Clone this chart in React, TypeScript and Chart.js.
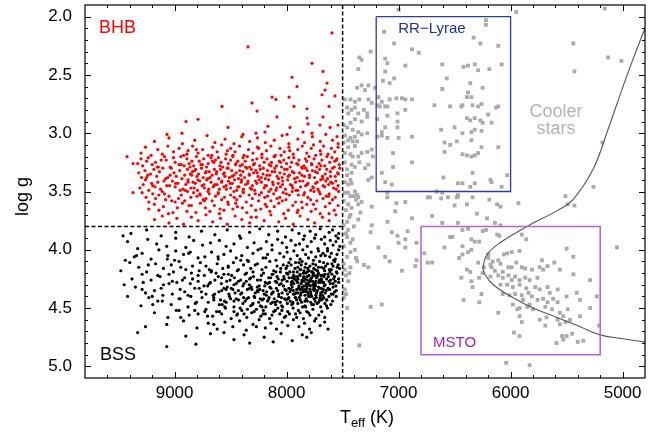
import React, { useEffect, useRef } from 'react';
import { Chart, registerables } from 'chart.js';

Chart.register(...registerables);

const FONT = '"Liberation Sans", Arial, Helvetica, sans-serif';

// Axes
const teffMin = 4800;
const teffMax = 9800;
const loggMin = 1.9;
const loggMax = 5.1;
const xMajorTicks = [9000, 8000, 7000, 6000, 5000];
const yMajorTicks = [2.0, 2.5, 3.0, 3.5, 4.0, 4.5, 5.0];

// Selection cuts and boxes (Teff hot, Teff cool, logg top, logg bottom)
const teffCut = 7500;
const loggCut = 3.8;
const rrLyraeBox = [7200, 6000, 2.0, 3.5];
const mstoBox = [6800, 5200, 3.8, 4.9];

// Isochrone
const isochroneTeff = [4760, 4800, 4963, 5142, 5264, 5443, 5577, 5853, 6095, 6210, 6245, 6230, 6155, 5980, 5800, 5585, 5380, 5200, 5020, 4800, 4760];
const isochroneLogg = [2.02, 2.10, 2.51, 3.00, 3.31, 3.57, 3.66, 3.80, 3.94, 4.04, 4.15, 4.21, 4.30, 4.41, 4.50, 4.58, 4.66, 4.73, 4.76, 4.79, 4.79];

// BHB candidates: Teff, log g pairs
const bhbStars = [
  7595,2.14, 8345,2.26, 7773,2.40, 7675,2.47, 7952,2.52, 7639,2.57, 7907,2.60, 7657,2.63, 7684,2.67, 8130,2.69,
  8095,2.71, 7978,2.69, 7568,2.68, 8309,2.74, 8577,2.77, 7934,2.77, 7818,2.79, 7621,2.77, 8264,2.81, 8086,2.86,
  7675,2.86, 7818,2.87, 8791,2.88, 8898,2.90, 8166,2.94, 8523,2.95, 7970,2.95, 7809,2.92, 7702,2.93, 7612,2.95,
  7541,2.93, 8934,3.00, 9068,3.01, 8389,3.01, 8273,3.00, 8193,2.99, 7854,2.99, 7773,3.00, 7550,3.03, 7996,3.01,
  9425,3.20, 9371,3.26, 9371,3.51,
  9180,3.07, 9050,3.04, 8930,3.09, 8820,3.06, 8710,3.02, 8640,3.08, 8550,3.05, 8470,3.09, 8400,3.03, 8330,3.07,
  8260,3.04, 8190,3.08, 8110,3.06, 8040,3.02, 7980,3.09, 7900,3.05, 7840,3.08, 7770,3.03, 7700,3.07, 7650,3.01,
  7590,3.06, 7540,3.09,
  9300,3.17, 9260,3.12, 9210,3.19, 9150,3.14, 9110,3.18, 9060,3.11, 9010,3.16, 8960,3.13, 8920,3.19, 8880,3.15,
  8840,3.11, 8790,3.17, 8750,3.14, 8700,3.19, 8660,3.12, 8620,3.16, 8580,3.10, 8540,3.18, 8500,3.13, 8460,3.16,
  8420,3.11, 8380,3.19, 8340,3.14, 8300,3.17, 8260,3.12, 8220,3.18, 8180,3.15, 8140,3.11, 8100,3.19, 8060,3.13,
  8020,3.16, 7980,3.12, 7940,3.18, 7900,3.14, 7860,3.11, 7820,3.17, 7780,3.13, 7740,3.19, 7700,3.15, 7670,3.11,
  7630,3.18, 7600,3.13, 7570,3.16, 7540,3.12, 8890,3.18, 8480,3.19, 8050,3.19, 7760,3.10,
  9330,3.26, 9300,3.22, 9285,3.28, 9250,3.24, 9235,3.21, 9200,3.27, 9170,3.25, 9155,3.29, 9120,3.23, 9090,3.20,
  9075,3.23, 9040,3.29, 9010,3.21, 8995,3.25, 8960,3.27, 8945,3.20, 8915,3.28, 8890,3.22, 8870,3.26, 8845,3.24,
  8830,3.28, 8805,3.20, 8780,3.24, 8765,3.27, 8740,3.22, 8715,3.29, 8700,3.26, 8675,3.21, 8650,3.25, 8635,3.23,
  8610,3.21, 8585,3.25, 8570,3.29, 8545,3.22, 8520,3.26, 8500,3.23, 8480,3.20, 8455,3.27, 8435,3.24, 8415,3.28,
  8395,3.27, 8370,3.24, 8350,3.20, 8330,3.29, 8305,3.23, 8285,3.26, 8265,3.22, 8240,3.28, 8220,3.21, 8200,3.25,
  8175,3.22, 8155,3.27, 8135,3.25, 8110,3.20, 8090,3.28, 8065,3.24, 8045,3.29, 8025,3.23, 8000,3.26, 7980,3.21,
  7955,3.25, 7935,3.21, 7910,3.26, 7890,3.23, 7865,3.29, 7845,3.28, 7820,3.24, 7800,3.20, 7775,3.27, 7755,3.22,
  7730,3.29, 7710,3.26, 7685,3.23, 7660,3.28, 7640,3.20, 7615,3.25, 7595,3.21, 7570,3.24, 7550,3.22, 7530,3.27,
  9320,3.34, 9295,3.38, 9265,3.32, 9240,3.36, 9215,3.35, 9185,3.31, 9160,3.37, 9135,3.33, 9105,3.30, 9080,3.39,
  9060,3.38, 9030,3.30, 9005,3.34, 8985,3.37, 8955,3.32, 8935,3.39, 8910,3.36, 8885,3.31, 8860,3.35, 8840,3.33,
  8820,3.32, 8800,3.37, 8785,3.35, 8760,3.30, 8745,3.38, 8725,3.34, 8705,3.39, 8690,3.33, 8665,3.36, 8645,3.31,
  8625,3.33, 8605,3.39, 8590,3.31, 8565,3.35, 8550,3.37, 8530,3.30, 8510,3.38, 8490,3.32, 8470,3.36, 8450,3.34,
  8430,3.39, 8410,3.36, 8390,3.33, 8375,3.38, 8355,3.30, 8335,3.35, 8315,3.31, 8295,3.34, 8275,3.32, 8255,3.37,
  8235,3.31, 8210,3.35, 8190,3.39, 8170,3.32, 8150,3.36, 8130,3.33, 8105,3.30, 8085,3.37, 8060,3.34, 8040,3.38,
  8020,3.35, 7995,3.31, 7975,3.36, 7950,3.33, 7930,3.39, 7905,3.38, 7885,3.34, 7860,3.30, 7840,3.37, 7815,3.32,
  7795,3.36, 7770,3.32, 7750,3.38, 7725,3.34, 7705,3.31, 7680,3.37, 7655,3.35, 7635,3.39, 7610,3.33, 7590,3.30,
  7565,3.37, 7545,3.34, 7525,3.30,
  9310,3.47, 9280,3.44, 9260,3.40, 9230,3.49, 9205,3.43, 9175,3.46, 9150,3.42, 9125,3.48, 9095,3.41, 9070,3.45,
  9045,3.45, 9020,3.41, 8995,3.46, 8970,3.43, 8950,3.49, 8925,3.48, 8900,3.44, 8880,3.40, 8855,3.47, 8835,3.42,
  8815,3.43, 8795,3.49, 8775,3.41, 8755,3.45, 8735,3.47, 8715,3.40, 8695,3.48, 8675,3.42, 8655,3.46, 8640,3.44,
  8620,3.44, 8600,3.48, 8580,3.42, 8560,3.46, 8540,3.45, 8520,3.41, 8500,3.47, 8485,3.43, 8465,3.40, 8445,3.49,
  8425,3.46, 8405,3.42, 8385,3.48, 8365,3.44, 8345,3.41, 8325,3.47, 8305,3.45, 8285,3.49, 8265,3.43, 8245,3.40,
  8225,3.42, 8200,3.47, 8180,3.45, 8160,3.40, 8140,3.48, 8120,3.44, 8095,3.49, 8075,3.43, 8055,3.46, 8035,3.41,
  8010,3.48, 7990,3.40, 7965,3.44, 7945,3.47, 7920,3.42, 7900,3.49, 7875,3.46, 7855,3.41, 7830,3.45, 7810,3.43,
  7785,3.49, 7765,3.46, 7740,3.43, 7720,3.48, 7695,3.40, 7675,3.45, 7650,3.41, 7625,3.44, 7605,3.42, 7580,3.47,
  7560,3.41, 7540,3.45,
  9290,3.51, 9255,3.55, 9230,3.59, 9195,3.52, 9170,3.56, 9140,3.53, 9110,3.50, 9080,3.57, 9050,3.54, 9025,3.58,
  8995,3.59, 8965,3.56, 8940,3.53, 8910,3.58, 8885,3.50, 8855,3.55, 8830,3.51, 8800,3.54, 8775,3.52, 8745,3.57,
  8720,3.56, 8690,3.52, 8665,3.58, 8635,3.54, 8610,3.51, 8580,3.57, 8555,3.55, 8525,3.59, 8500,3.53, 8470,3.50,
  8445,3.57, 8415,3.54, 8390,3.50, 8360,3.59, 8335,3.53, 8305,3.56, 8280,3.52, 8250,3.58, 8225,3.51, 8195,3.55,
  8170,3.54, 8140,3.58, 8115,3.52, 8085,3.56, 8060,3.55, 8030,3.51, 8005,3.57, 7975,3.53, 7950,3.50, 7920,3.59,
  7895,3.53, 7865,3.59, 7840,3.51, 7810,3.55, 7785,3.57, 7755,3.50, 7730,3.58, 7700,3.52, 7675,3.56, 7645,3.54,
  7620,3.52, 7590,3.57, 7565,3.55, 7535,3.50,
  9230,3.65, 9180,3.61, 9140,3.66, 9100,3.63, 9055,3.69, 9015,3.68, 8975,3.64, 8930,3.60, 8890,3.67, 8850,3.62,
  8810,3.68, 8770,3.60, 8725,3.64, 8685,3.67, 8645,3.62, 8600,3.69, 8560,3.66, 8520,3.61, 8480,3.65, 8440,3.63,
  8395,3.64, 8355,3.68, 8315,3.62, 8275,3.66, 8230,3.65, 8190,3.61, 8150,3.67, 8110,3.63, 8070,3.60, 8025,3.69,
  7985,3.66, 7945,3.62, 7905,3.68, 7860,3.64, 7820,3.61, 7780,3.67, 7740,3.65, 7700,3.69, 7655,3.63, 7615,3.60,
  7575,3.66, 7540,3.62,
  9180,3.74, 9110,3.71, 9050,3.77, 8980,3.73, 8920,3.78, 8850,3.72, 8790,3.75, 8720,3.70, 8660,3.76, 8590,3.73,
  8530,3.78, 8460,3.71, 8400,3.74, 8330,3.77, 8270,3.72, 8200,3.75, 8140,3.70, 8070,3.76, 8010,3.73, 7940,3.78,
  7880,3.71, 7810,3.74, 7750,3.77, 7680,3.72, 7620,3.75, 7560,3.70,
  8880,3.42, 8862,3.29, 8848,3.36, 8826,3.47, 8812,3.31, 8792,3.40, 8770,3.53, 8752,3.27, 8738,3.44, 8718,3.33,
  8702,3.50, 8684,3.38, 8662,3.24, 8648,3.45, 8628,3.35, 8612,3.52, 8596,3.28, 8578,3.41, 8556,3.34, 8538,3.48,
  8522,3.30, 8504,3.43, 8486,3.37, 8468,3.55, 8452,3.26, 8436,3.46, 8418,3.32, 8402,3.40, 8386,3.51, 8366,3.29,
  8348,3.43, 8332,3.36, 8314,3.48, 8296,3.27, 8278,3.41, 8262,3.34, 8244,3.53, 8226,3.38, 8208,3.30, 8192,3.45,
  8174,3.36, 8158,3.50, 8140,3.28, 8124,3.42, 8106,3.33, 8088,3.47, 8072,3.39, 8054,3.25, 8036,3.44, 8018,3.31,
  8002,3.52, 7986,3.37, 7968,3.29, 7952,3.45, 7934,3.34, 7916,3.49, 7898,3.27, 7882,3.41, 7864,3.36, 7848,3.53,
  7830,3.30, 7814,3.44, 7796,3.38, 7778,3.26, 7762,3.47, 7744,3.33, 7728,3.42, 7710,3.50, 7694,3.28, 7676,3.39,
  7660,3.46, 7642,3.31, 7626,3.54, 7608,3.37, 7590,3.43, 7574,3.29, 7556,3.48, 7538,3.35,
  9250,3.38, 9195,3.45, 9145,3.29, 9090,3.52, 9040,3.36, 8990,3.43, 8940,3.27, 8905,3.49,
  8872,3.62, 8733,3.58, 8594,3.65, 8455,3.60, 8316,3.72, 8177,3.63, 8038,3.58, 7899,3.66, 7760,3.61, 7621,3.69,
  8806,3.14, 8667,3.19, 8528,3.15, 8389,3.21, 8250,3.13, 8111,3.20, 7972,3.15, 7833,3.22, 7694,3.18, 7555,3.23,
];

// BSS candidates: Teff, log g pairs
const bssStars = [
  9390,3.86, 9250,3.83, 9120,3.88, 8990,3.85, 8870,3.89, 8760,3.84, 8640,3.87, 8530,3.83, 8420,3.88, 8330,3.85,
  8240,3.82, 8160,3.87, 8080,3.84, 8010,3.89, 7950,3.83, 7890,3.86, 7840,3.88, 7790,3.84, 7740,3.87, 7700,3.82,
  7660,3.89, 7620,3.85, 7590,3.83, 7560,3.88, 7535,3.86,
  9420,3.93, 9330,3.99, 9240,3.91, 9160,3.95, 9070,3.97, 8990,3.90, 8900,3.98, 8830,3.92, 8750,3.96, 8680,3.94,
  8600,3.92, 8540,3.97, 8470,3.95, 8410,3.90, 8350,3.98, 8290,3.94, 8230,3.99, 8180,3.93, 8130,3.96, 8080,3.91,
  8040,3.94, 8000,3.98, 7960,3.92, 7920,3.96, 7885,3.95, 7850,3.91, 7815,3.97, 7780,3.93, 7750,3.90, 7720,3.99,
  7690,3.91, 7660,3.95, 7635,3.99, 7610,3.92, 7585,3.96, 7560,3.93, 7540,3.90, 7525,3.97,
  9440,4.09, 9360,4.06, 9290,4.03, 9210,4.08, 9140,4.00, 9060,4.05, 8990,4.01, 8920,4.04, 8860,4.02, 8790,4.07,
  8730,4.06, 8670,4.02, 8610,4.08, 8560,4.04, 8500,4.01, 8450,4.07, 8400,4.05, 8350,4.09, 8300,4.03, 8255,4.00,
  8210,4.07, 8170,4.04, 8130,4.00, 8095,4.09, 8060,4.03, 8025,4.06, 7995,4.02, 7965,4.08, 7935,4.01, 7905,4.05,
  7880,4.08, 7855,4.00, 7830,4.04, 7805,4.07, 7780,4.02, 7760,4.09, 7740,4.06, 7715,4.01, 7695,4.05, 7675,4.03,
  7655,4.05, 7635,4.01, 7615,4.06, 7600,4.03, 7580,4.09, 7565,4.08, 7550,4.04, 7535,4.00,
  9400,4.11, 9320,4.15, 9250,4.19, 9170,4.12, 9100,4.16, 9030,4.13, 8960,4.10, 8900,4.17, 8840,4.14, 8780,4.18,
  8720,4.14, 8670,4.18, 8620,4.12, 8570,4.16, 8520,4.15, 8475,4.11, 8430,4.17, 8385,4.13, 8340,4.10, 8300,4.19,
  8260,4.12, 8220,4.17, 8185,4.15, 8150,4.10, 8115,4.18, 8085,4.14, 8055,4.19, 8030,4.13, 8005,4.16, 7980,4.11,
  7960,4.13, 7940,4.19, 7920,4.11, 7900,4.15, 7880,4.17, 7862,4.10, 7845,4.18, 7828,4.12, 7810,4.16, 7792,4.14,
  7775,4.19, 7758,4.16, 7740,4.13, 7722,4.18, 7705,4.10, 7688,4.15, 7670,4.11, 7652,4.14, 7635,4.12, 7618,4.17,
  7600,4.17, 7585,4.14, 7570,4.10, 7555,4.19, 7540,4.13, 7528,4.16,
  7995,4.14, 7925,4.16, 7870,4.13, 7815,4.19, 7765,4.12, 7715,4.15, 7660,4.18, 7890,4.11, 7835,4.15, 7745,4.17,
  9380,4.25, 9290,4.21, 9210,4.26, 9130,4.23, 9050,4.29, 8980,4.28, 8910,4.24, 8850,4.20, 8790,4.27, 8735,4.22,
  8680,4.28, 8630,4.20, 8580,4.24, 8535,4.27, 8490,4.22, 8450,4.29, 8410,4.26, 8370,4.21, 8330,4.25, 8295,4.23,
  8260,4.26, 8225,4.22, 8190,4.28, 8160,4.24, 8130,4.21, 8100,4.27, 8075,4.25, 8050,4.29, 8025,4.23, 8000,4.20,
  7978,4.24, 7958,4.28, 7938,4.22, 7918,4.26, 7898,4.25, 7880,4.21, 7862,4.27, 7845,4.23, 7828,4.20, 7810,4.29,
  7793,4.27, 7776,4.24, 7760,4.20, 7743,4.29, 7726,4.23, 7710,4.26, 7693,4.22, 7676,4.28, 7660,4.21, 7643,4.25,
  7627,4.23, 7610,4.29, 7595,4.21, 7580,4.25, 7565,4.27, 7550,4.20, 7535,4.28,
  8085,4.23, 8040,4.26, 7990,4.21, 7950,4.27, 7905,4.23, 7870,4.29, 7835,4.25, 7800,4.22, 7768,4.27, 7735,4.24,
  7700,4.28, 7668,4.23, 7850,4.20, 7785,4.25, 7720,4.21, 7930,4.25, 7815,4.26, 7752,4.22, 7688,4.26, 7620,4.27,
  9350,4.32, 9260,4.37, 9180,4.35, 9100,4.30, 9020,4.38, 8950,4.34, 8880,4.39, 8820,4.33, 8760,4.36, 8705,4.31,
  8655,4.39, 8605,4.36, 8560,4.33, 8515,4.38, 8470,4.30, 8430,4.35, 8390,4.31, 8350,4.34, 8315,4.32, 8280,4.37,
  8245,4.31, 8210,4.35, 8180,4.39, 8150,4.32, 8120,4.36, 8092,4.33, 8065,4.30, 8040,4.37, 8015,4.34, 7992,4.38,
  7970,4.36, 7950,4.32, 7930,4.38, 7910,4.34, 7890,4.31, 7872,4.37, 7854,4.35, 7836,4.39, 7818,4.33, 7800,4.30,
  7783,4.38, 7766,4.30, 7749,4.34, 7732,4.37, 7715,4.32, 7698,4.39, 7681,4.36, 7664,4.31, 7647,4.35, 7630,4.33,
  7615,4.34, 7600,4.38, 7585,4.32, 7570,4.36, 7556,4.35,
  8480,4.34, 8400,4.37, 8330,4.33, 8260,4.35, 8195,4.31, 8135,4.38, 8080,4.35, 8028,4.31, 7980,4.33, 7940,4.35,
  7900,4.37, 7862,4.32, 7826,4.36, 7790,4.34, 7757,4.32, 7724,4.35, 7690,4.33, 7655,4.37, 8580,4.35, 8530,4.32,
  7880,4.34, 7845,4.31, 7808,4.38, 7740,4.39, 7672,4.34,
  9300,4.48, 9200,4.40, 9110,4.44, 9030,4.47, 8950,4.42, 8880,4.49, 8815,4.46, 8755,4.41, 8700,4.45, 8650,4.43,
  8600,4.47, 8555,4.44, 8510,4.40, 8470,4.49, 8430,4.43, 8390,4.46, 8355,4.42, 8320,4.48, 8285,4.41, 8250,4.45,
  8218,4.43, 8186,4.49, 8156,4.41, 8126,4.45, 8098,4.47, 8070,4.40, 8044,4.48, 8018,4.42, 7993,4.46, 7968,4.44,
  7945,4.45, 7922,4.41, 7900,4.46, 7878,4.43, 7857,4.49, 7836,4.48, 7815,4.44, 7795,4.40, 7775,4.47, 7755,4.42,
  7735,4.41, 7715,4.45, 7696,4.49, 7677,4.42, 7658,4.46, 7640,4.43, 7622,4.40, 7605,4.47, 7590,4.44,
  8540,4.45, 8450,4.42, 8370,4.44, 8300,4.46, 8235,4.42, 8170,4.44, 8110,4.42, 8056,4.45, 8005,4.43, 7955,4.47,
  7910,4.43, 7866,4.45, 7825,4.42, 7785,4.45, 7745,4.44, 7705,4.43, 7668,4.41, 8140,4.46, 8085,4.44, 7980,4.41,
  9180,4.54, 9060,4.58, 8960,4.52, 8870,4.56, 8790,4.55, 8720,4.51, 8660,4.57, 8600,4.53, 8545,4.50, 8495,4.59,
  8445,4.56, 8400,4.52, 8355,4.58, 8312,4.54, 8270,4.51, 8230,4.57, 8190,4.55, 8152,4.59, 8115,4.53, 8078,4.50,
  8042,4.52, 8008,4.57, 7975,4.55, 7942,4.50, 7910,4.58, 7880,4.54, 7850,4.59, 7820,4.53, 7792,4.56, 7765,4.51,
  7738,4.59, 7712,4.56, 7686,4.53, 7660,4.58, 7635,4.50,
  8580,4.55, 8470,4.53, 8380,4.55, 8290,4.53, 8210,4.55, 8130,4.56, 8060,4.55, 7990,4.53, 7895,4.52, 7805,4.54,
  9070,4.64, 8920,4.61, 8800,4.67, 8700,4.63, 8620,4.68, 8550,4.62, 8480,4.66, 8420,4.61, 8360,4.69, 8300,4.64,
  8245,4.60, 8190,4.67, 8140,4.63, 8090,4.68, 8040,4.62, 7990,4.65, 7940,4.60, 7890,4.66, 7840,4.63, 7795,4.68,
  7750,4.61, 7700,4.65, 7660,4.62, 8650,4.64, 8270,4.66,
  8900,4.74, 8680,4.72, 8470,4.77, 8380,4.73, 8200,4.75, 8050,4.72, 7950,4.78, 7860,4.73, 7780,4.71, 8560,4.71,
  8120,4.79, 9460,3.88, 9330,4.71, 9260,4.66, 9070,4.83, 8810,4.81, 8330,4.80, 7630,4.68, 7820,4.75, 9450,4.30,
  9480,4.18, 9420,4.40,
  8140,4.33, 8122,4.21, 8104,4.45, 8088,4.28, 8070,4.38, 8052,4.16, 8036,4.49, 8020,4.25, 8004,4.35, 7988,4.42,
  7972,4.19, 7958,4.30, 7944,4.46, 7930,4.23, 7916,4.37, 7902,4.28, 7888,4.41, 7874,4.17, 7860,4.33, 7848,4.24,
  7836,4.44, 7824,4.29, 7812,4.36, 7800,4.18, 7788,4.31, 7776,4.40, 7764,4.22, 7752,4.35, 7740,4.27, 7728,4.46,
  7716,4.20, 7704,4.33, 7692,4.25, 7680,4.39, 7668,4.16, 7656,4.30, 7644,4.43, 7632,4.21, 7620,4.34, 7608,4.26,
  7596,4.12, 7584,4.38, 7572,4.23, 7560,4.31, 7548,4.15, 7536,4.25,
  7965,4.34, 7935,4.29, 7905,4.19, 7875,4.39, 7845,4.27, 7815,4.23, 7785,4.36, 7755,4.29, 7725,4.18, 7695,4.37,
  7952,4.24, 7922,4.41, 7892,4.33, 7862,4.26, 7832,4.34, 7802,4.40, 7772,4.19, 7742,4.31, 7712,4.28, 7682,4.22,
  7940,4.38, 7910,4.26, 7880,4.22, 7850,4.36, 7820,4.31, 7790,4.27, 7760,4.34, 7730,4.23, 7700,4.41, 7670,4.28,
  7996,4.27, 8046,4.41, 8096,4.19, 8126,4.37, 7643,4.48, 7613,4.19, 7585,4.29, 7557,4.40,
  8690,4.29, 8650,4.41, 8610,4.23, 8575,4.47, 8540,4.34, 8505,4.26, 8470,4.44, 8440,4.18, 8410,4.38, 8380,4.29,
  8350,4.51, 8320,4.24, 8290,4.40, 8262,4.32, 8234,4.48, 8206,4.20, 8178,4.36, 8152,4.28, 8625,4.53, 8520,4.21,
  8415,4.50, 8310,4.34, 8205,4.42, 8855,4.40, 8790,4.22, 8730,4.53, 9010,4.19, 9150,4.44, 9280,4.28, 8945,4.58,
  9340,4.05, 9290,4.34, 9235,4.13, 9195,4.47, 9150,4.22, 9105,4.39, 9065,4.08, 9020,4.27, 8985,4.52, 8945,4.15,
  8910,4.36, 8875,4.03, 8840,4.25, 8805,4.45, 8770,4.11, 8738,4.31, 8706,4.57, 8674,4.19, 8642,4.38, 8612,4.06,
  8582,4.29, 8552,4.49, 8522,4.14, 8494,4.33, 8466,4.24, 8438,4.55, 8410,4.09, 8384,4.41, 8358,4.20, 8332,4.30,
  8306,4.47, 8280,4.13, 8256,4.36, 8232,4.26, 8208,4.52, 8186,4.07, 8164,4.43, 8142,4.24, 9120,4.33, 9000,4.09,
  8960,4.42, 8860,4.29, 8820,4.52, 8720,4.38, 8690,4.17, 8590,4.43, 8560,4.21, 8460,4.37, 8430,4.27, 8340,4.41,
  8320,4.16, 8240,4.34, 8220,4.49, 8170,4.29, 9230,4.41, 9050,4.21, 8930,4.26, 8780,4.33, 8640,4.26, 8500,4.42,
  8360,4.27, 8200,4.38, 8100,4.52, 8020,4.58, 7920,4.55, 7830,4.49, 7760,4.47, 7690,4.43,
];

// Other (non-selected) stars: Teff, log g pairs
const otherStars = [
  7000,1.94, 6220,2.03, 6220,2.07, 7130,2.13, 7040,2.23, 7250,2.30, 6880,2.28, 6820,2.31, 6330,2.18, 6270,2.23,
  6110,2.25, 7350,2.35, 7330,2.37, 7120,2.36, 7100,2.40, 7360,2.45, 6940,2.42, 6610,2.41, 6420,2.43, 6380,2.42,
  6320,2.41, 6290,2.46, 6190,2.45, 6080,2.41, 7120,2.47, 7040,2.53, 7140,2.55, 7080,2.57, 6570,2.53, 6360,2.57,
  6610,2.62, 6250,2.61, 7210,2.61, 7330,2.59, 7270,2.59, 7370,2.61, 7300,2.63, 6380,2.65, 6390,2.69, 6350,2.69,
  7180,2.69, 7080,2.71, 7020,2.70, 6970,2.70, 6940,2.71, 6880,2.71, 7480,2.71, 7430,2.71, 7390,2.73, 7350,2.71,
  7270,2.71, 7240,2.74, 7150,2.73, 7120,2.77, 7170,2.77, 7190,2.76, 7100,2.77, 6680,2.76, 6540,2.77, 6440,2.77,
  6430,2.76, 6340,2.76, 6290,2.77, 6260,2.75, 6110,2.77, 6130,2.78, 6940,2.80, 7010,2.83, 7100,2.85, 7460,2.78,
  7420,2.80, 7390,2.78, 7310,2.80, 7280,2.83, 7360,2.83, 7450,2.83, 6390,2.87, 6360,2.89, 6320,2.87, 6270,2.89,
  6200,2.84, 6170,2.91, 6250,2.91, 7190,2.88, 7280,2.86, 7330,2.90, 7390,2.88, 7430,2.91, 7460,2.95, 7490,2.93,
  7010,2.90, 7010,2.95, 7120,2.95, 7150,2.99, 6620,2.97, 6500,2.95, 6430,3.00, 6350,2.99, 6320,2.97, 6260,2.98,
  7410,2.97, 7360,2.99, 7390,3.03, 7430,3.04, 7330,3.01, 7280,3.00, 7370,3.07, 7410,3.07, 7450,3.06, 7480,3.02,
  7490,3.08, 7190,3.03, 7150,3.02, 7100,3.04, 7000,3.04, 6880,3.03, 6590,3.08, 6540,3.10, 6480,3.07, 6350,3.06,
  6260,3.12, 6110,3.12, 7450,3.12, 7390,3.11, 7480,3.17, 7430,3.18, 7410,3.20, 7360,3.20, 7330,3.17, 7280,3.16,
  7230,3.20, 7240,3.14, 7050,3.17, 6880,3.25, 6590,3.16, 6430,3.18, 6390,3.19, 6350,3.20, 6320,3.19, 6290,3.17,
  7480,3.25, 7420,3.27, 7460,3.31, 7390,3.29, 7350,3.25, 7270,3.27, 7300,3.30, 7420,3.34, 7460,3.36, 7430,3.40,
  7480,3.42, 7450,3.44, 7270,3.40, 7240,3.38, 7390,3.50, 7420,3.43, 7050,3.29, 7150,3.34, 7120,3.42, 7060,3.44,
  7100,3.51, 6600,3.38, 6470,3.43, 6430,3.43, 6340,3.34, 6320,3.43, 6360,3.46, 6180,3.40, 6170,3.42, 6080,3.46,
  7450,3.51, 7370,3.53, 7360,3.55, 6660,3.50, 6610,3.51, 6560,3.55, 6480,3.55, 6470,3.53, 6340,3.55, 6740,3.55,
  7480,3.51, 7430,3.54, 7400,3.54, 7380,3.57, 7330,3.59, 7450,3.61, 7420,3.64, 7360,3.61, 7340,3.68, 7360,3.74,
  7430,3.70, 7460,3.76, 7450,3.83, 7460,3.89, 7430,3.94, 7390,4.00, 7430,4.02, 7370,4.10, 7430,4.15, 7480,4.17,
  7450,4.27, 7480,4.34, 7460,4.50, 7350,4.82, 7240,3.63, 7240,3.79, 7250,3.85, 7250,4.49, 7150,4.47, 7180,3.98,
  7120,4.06, 7080,4.10, 6970,4.18, 7270,4.15, 7310,4.13, 7100,3.76, 7060,3.85, 7010,3.88, 7000,3.94, 6940,3.91,
  6920,3.84, 6880,3.73, 6840,3.94, 6940,3.98, 6840,4.09, 6850,4.14, 7020,3.60, 7030,3.67, 7100,3.55, 6940,3.59,
  6720,3.55, 6700,3.71, 6610,3.77, 6620,3.56, 6470,3.54, 6500,3.62, 6390,3.61, 6300,3.69, 6210,3.73, 6190,3.57,
  6120,3.61, 6090,3.63, 6140,3.77, 6090,3.79, 6770,4.03, 6740,4.11, 6700,4.11, 6590,3.98, 6540,3.89, 6520,3.89,
  6470,3.77, 6430,3.83, 6380,3.82, 6350,3.91, 6320,3.93, 6280,3.93, 6430,3.97, 6380,4.02, 6350,4.00, 6430,4.04,
  6460,4.07, 6390,4.17, 6360,4.19, 6440,4.24, 6350,4.27, 6280,4.24, 6260,4.38, 6280,4.45, 6420,4.43, 6340,4.32,
  6290,4.11, 6250,4.20, 6240,4.15, 6180,4.13, 6200,4.04,
  7490,3.58, 7470,3.66, 7440,3.72, 7490,3.79, 7470,3.86, 7490,3.97, 7460,4.06, 7490,4.12, 7470,4.22, 7440,4.20,
  7490,4.41, 7470,4.38, 7400,3.80, 7410,3.91, 7380,4.07,
  6220,3.83, 6250,3.84, 6120,3.87, 6100,3.88, 5900,3.87, 5860,3.91, 5920,4.01, 5990,4.02, 6030,4.03, 6060,4.04,
  5500,3.99, 5440,4.06, 5050,3.98, 6200,4.07, 6160,4.10, 6110,4.09, 6090,4.12, 6170,4.15, 6140,4.18, 6070,4.19,
  6020,4.15, 5990,4.15, 5950,4.11, 5900,4.15, 5870,4.16, 5810,4.17, 5720,4.09, 5740,4.15, 5710,4.17, 5670,4.14,
  5610,4.11, 5560,4.17, 6180,4.23, 6110,4.22, 6070,4.24, 6020,4.22, 5990,4.26, 5960,4.23, 5920,4.26, 5870,4.24,
  5830,4.26, 5760,4.24, 5440,4.21, 5290,4.26, 6090,4.30, 6030,4.30, 5980,4.32, 5920,4.30, 5860,4.33, 5780,4.32,
  5740,4.34, 5670,4.32, 5650,4.37, 5580,4.34, 5500,4.40, 5410,4.37, 6070,4.38, 6010,4.39, 5960,4.38, 5900,4.39,
  5840,4.37, 5810,4.40, 5890,4.43, 5760,4.43, 5710,4.42, 5670,4.45, 5620,4.42, 5580,4.45, 5980,4.47, 5940,4.51,
  5920,4.50, 5850,4.49, 5830,4.47, 5800,4.51, 5690,4.49, 5630,4.51, 5560,4.54, 5490,4.51, 5380,4.43, 5290,4.50,
  5230,4.40, 6110,4.54, 5920,4.57, 5740,4.60, 5680,4.58, 5580,4.60, 5530,4.57, 5470,4.60, 5380,4.57, 5900,4.62,
  5690,4.65, 5560,4.64, 5510,4.62, 5210,4.65, 5970,4.71, 5920,4.74, 5500,4.74, 5450,4.72, 5540,4.74, 5590,4.80,
  5530,4.77, 5400,4.79, 5350,4.78, 6040,4.97, 5830,4.99,
  5950,1.96, 5160,1.93, 5440,2.23, 5130,2.35, 5010,2.38, 5430,2.47, 5180,3.08, 6030,3.36, 5260,3.46, 5510,3.54,
  5930,3.60, 5490,3.61, 5430,3.62,
];

function pairs(arr: number[]) {
  const out: { x: number; y: number }[] = [];
  for (let i = 0; i + 1 < arr.length; i += 2) out.push({ x: arr[i], y: arr[i + 1] });
  return out;
}

function boxPath(b: number[]) {
  return [
    { x: b[0], y: b[2] },
    { x: b[1], y: b[2] },
    { x: b[1], y: b[3] },
    { x: b[0], y: b[3] },
    { x: b[0], y: b[2] },
  ];
}

const framePlugin = {
  id: 'frameTicks',
  afterDraw(chart: any) {
    const { ctx, chartArea, scales } = chart;
    const { left, right, top, bottom } = chartArea;
    const xs = scales.x;
    const ys = scales.y;
    ctx.save();
    ctx.strokeStyle = '#000';
    ctx.lineWidth = 1.2;
    ctx.strokeRect(left, top, right - left, bottom - top);
    ctx.lineWidth = 1;
    ctx.beginPath();
    for (let v = teffMin + 200; v < teffMax; v += 200) {
      const px = Math.round(xs.getPixelForValue(v)) + 0.5;
      const len = v % 1000 === 0 ? 6 : 3;
      ctx.moveTo(px, bottom);
      ctx.lineTo(px, bottom - len);
      ctx.moveTo(px, top);
      ctx.lineTo(px, top + len);
    }
    for (let k = 20; k <= 50; k += 1) {
      const v = k / 10;
      const py = Math.round(ys.getPixelForValue(v)) + 0.5;
      const len = k % 5 === 0 ? 6 : 3;
      ctx.moveTo(left, py);
      ctx.lineTo(left + len, py);
      ctx.moveTo(right, py);
      ctx.lineTo(right - len, py);
    }
    ctx.stroke();

    // axis titles
    ctx.fillStyle = '#000';
    ctx.textBaseline = 'alphabetic';
    const cx = (left + right) / 2;
    const baseY = 423;
    ctx.font = `18px ${FONT}`;
    const wT = ctx.measureText('T').width;
    ctx.font = `13px ${FONT}`;
    const wSub = ctx.measureText('eff').width;
    ctx.font = `18px ${FONT}`;
    const wRest = ctx.measureText(' (K)').width;
    const x0 = cx - (wT + wSub + wRest) / 2 + 2;
    ctx.textAlign = 'left';
    ctx.fillText('T', x0, baseY);
    ctx.font = `13px ${FONT}`;
    ctx.fillText('eff', x0 + wT, baseY + 4);
    ctx.font = `18px ${FONT}`;
    ctx.fillText(' (K)', x0 + wT + wSub, baseY);

    ctx.save();
    ctx.translate(23, (top + bottom) / 2 + 5);
    ctx.rotate(-Math.PI / 2);
    ctx.textAlign = 'center';
    ctx.textBaseline = 'middle';
    ctx.font = `18px ${FONT}`;
    ctx.fillText('log g', 0, 0);
    ctx.restore();
    ctx.restore();
  },
};

const labelPlugin = {
  id: 'regionLabels',
  afterDatasetsDraw(chart: any) {
    const { ctx, scales } = chart;
    const xs = scales.x;
    const ys = scales.y;
    const put = (text: string, t: number, g: number, color: string, size: number, align: CanvasTextAlign) => {
      ctx.fillStyle = color;
      ctx.font = `${size}px ${FONT}`;
      ctx.textAlign = align;
      ctx.textBaseline = 'middle';
      ctx.fillText(text, xs.getPixelForValue(t), ys.getPixelForValue(g));
    };
    ctx.save();
    put('BHB', 9675, 2.10, '#ff0000', 18, 'left');
    put('BSS', 9666, 4.90, '#000000', 18, 'left');
    put('RR\u2212Lyrae', 6702, 2.106, '#2030a0', 15, 'center');
    put('MSTO', 6693, 4.796, '#9a22c8', 15, 'left');
    put('Cooler', 5594, 2.817, '#b4b4b4', 18, 'center');
    put('stars', 5594, 2.963, '#b4b4b4', 18, 'center');
    ctx.restore();
  },
};

export default function App() {
  const canvasRef = useRef<HTMLCanvasElement | null>(null);

  useEffect(() => {
    const canvas = canvasRef.current;
    if (!canvas) return;
    const isochrone = isochroneTeff.map((t, i) => ({ x: t, y: isochroneLogg[i] }));
    const lineBase = { showLine: true, pointRadius: 0, tension: 0, fill: false };
    const chart = new Chart(canvas, {
      type: 'scatter',
      data: {
        datasets: [
          { ...lineBase, data: [{ x: teffCut, y: loggMin }, { x: teffCut, y: loggMax }], borderColor: '#000', borderWidth: 1.5, borderDash: [4, 2.5], order: 0 } as any,
          { ...lineBase, data: [{ x: teffMax, y: loggCut }, { x: teffCut, y: loggCut }], borderColor: '#000', borderWidth: 1.5, borderDash: [4, 2.5], order: 0 } as any,
          { ...lineBase, data: boxPath(rrLyraeBox), borderColor: '#2a3aa8', borderWidth: 1.3, order: 0 } as any,
          { ...lineBase, data: boxPath(mstoBox), borderColor: '#b560d8', borderWidth: 1.5, order: 0 } as any,
          { ...lineBase, data: isochrone, borderColor: '#555555', borderWidth: 1.1, tension: 0.4, order: 0 } as any,
          { data: pairs(otherStars), pointStyle: 'rect', pointRadius: 2.7, backgroundColor: '#aaaaaa', borderWidth: 0, order: 1 } as any,
          { data: pairs(bssStars), pointStyle: 'circle', pointRadius: 1.6, backgroundColor: '#000000', borderWidth: 0, order: 2 } as any,
          { data: pairs(bhbStars), pointStyle: 'circle', pointRadius: 1.6, backgroundColor: '#ff0000', borderWidth: 0, order: 3 } as any,
        ],
      },
      options: {
        animation: false,
        responsive: false,
        maintainAspectRatio: false,
        events: [],
        layout: { padding: { top: 5, right: 17, left: 0, bottom: 0 } },
        plugins: { legend: { display: false }, tooltip: { enabled: false } },
        scales: {
          x: {
            type: 'linear',
            min: teffMin,
            max: teffMax,
            reverse: true,
            grid: { display: false, drawTicks: false },
            border: { display: false },
            ticks: {
              color: '#000',
              font: { family: FONT, size: 17 },
              padding: 5,
              autoSkip: false,
              maxRotation: 0,
              callback: (v: any) => String(v),
            },
            afterBuildTicks: (s: any) => {
              s.ticks = xMajorTicks.map((v) => ({ value: v }));
            },
            afterFit: (s: any) => {
              s.height = 56;
              s.paddingLeft = 0;
              s.paddingRight = 0;
            },
          },
          y: {
            type: 'linear',
            min: loggMin,
            max: loggMax,
            reverse: true,
            grid: { display: false, drawTicks: false },
            border: { display: false },
            ticks: {
              color: '#000',
              font: { family: FONT, size: 17 },
              padding: 13,
              autoSkip: false,
              callback: (v: any) => Number(v).toFixed(1),
            },
            afterBuildTicks: (s: any) => {
              s.ticks = yMajorTicks.map((v) => ({ value: v }));
            },
            afterFit: (s: any) => {
              s.width = 85;
              s.paddingTop = 0;
              s.paddingBottom = 0;
            },
          },
        },
      } as any,
      plugins: [framePlugin, labelPlugin],
    });
    return () => chart.destroy();
  }, []);

  return (
    <div style={{ position: 'fixed', left: 0, top: 0, width: 662, height: 434, background: '#fff' }}>
      <canvas ref={canvasRef} width={662} height={434} style={{ width: 662, height: 434 }} />
    </div>
  );
}
